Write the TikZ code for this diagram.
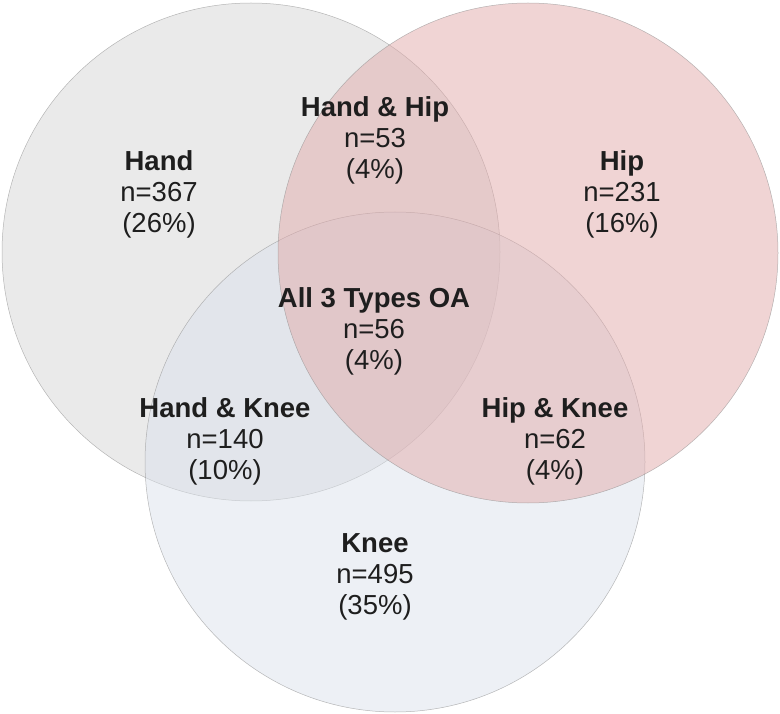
\documentclass[tikz,border=0pt]{standalone}
\usepackage{fontspec}
\setmainfont{Liberation Sans}
\usetikzlibrary{positioning}

\definecolor{handc}{HTML}{D6D6D6}
\definecolor{hipc}{HTML}{E1AAAA}
\definecolor{kneec}{HTML}{DBE1EB}
\definecolor{txt}{HTML}{1E1E1E}

\tikzset{
  set/.style={fill opacity=0.5, draw opacity=0.6, draw=black!45, line width=0.5pt},
  lbl/.style={align=center, text=txt, font=\fontsize{27.5}{31}\selectfont, inner sep=0pt}
}

\begin{document}
\begin{tikzpicture}[x=1pt,y=-1pt]
\useasboundingbox (0,0) rectangle (780,714);
% the centres of the three sets
\coordinate (hand) at (251,252);
\coordinate (hip) at (528,253);
\coordinate (knee) at (395,462);

% the three circles (hip last, so it tints the overlaps)
\draw[set, fill=handc] (hand) circle (249);
\draw[set, fill=kneec] (knee) circle (250);
\draw[set, fill=hipc] (hip) circle (250);

% the counts in each region
\node[lbl] (handlbl) at (159,194) {\textbf{Hand}\\n=367\\(26\%)};
\node[lbl] (hiplbl) at (622,194) {\textbf{Hip}\\n=231\\(16\%)};
\node[lbl] (handhip) at (375,140) {\textbf{Hand \& Hip}\\n=53\\(4\%)};
\node[lbl] (alllbl) at (374,331) {\textbf{All 3 Types OA}\\n=56\\(4\%)};
\node[lbl] (handknee) at (225,441) {\textbf{Hand \& Knee}\\n=140\\(10\%)};
\node[lbl] (hipknee) at (555,441) {\textbf{Hip \& Knee}\\n=62\\(4\%)};
\node[lbl] (kneelbl) at (375,577) {\textbf{Knee}\\n=495\\(35\%)};
\end{tikzpicture}
\end{document}
